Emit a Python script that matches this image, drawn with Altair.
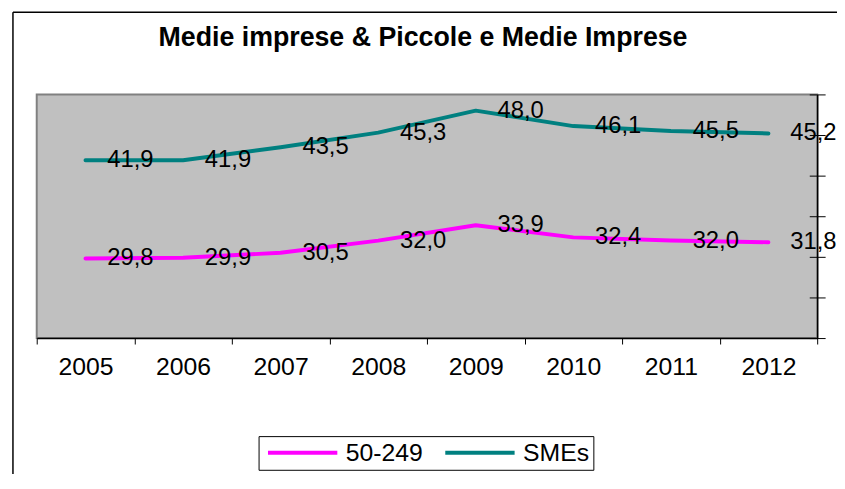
import altair as alt
import pandas as pd

years = ["2005", "2006", "2007", "2008", "2009", "2010", "2011", "2012"]
series_names = ["50-249", "SMEs"]
mid_values = [29.8, 29.9, 30.5, 32.0, 33.9, 32.4, 32.0, 31.8]
sme_values = [41.9, 41.9, 43.5, 45.3, 48.0, 46.1, 45.5, 45.2]
y_ticks = [20, 25, 30, 35, 40, 45, 50]
colors = ["#FF00FF", "#008080"]
title_text = "Medie imprese & Piccole e Medie Imprese"

rows = []
for name, vals in zip(series_names, [mid_values, sme_values]):
    for yr, v in zip(years, vals):
        rows.append({"year": yr, "series": name, "value": v})
df = pd.DataFrame(rows)

FONT = "Liberation Sans"

x_enc = alt.X(
    "year:O", bandPosition=0.5, sort=years,
    scale=alt.Scale(type="band", paddingInner=0, paddingOuter=0),
    axis=alt.Axis(title=None, labelAngle=0, tickBand="extent", tickSize=6,
                  tickColor="black", domainColor="black", domainWidth=1.5,
                  labelFontSize=25, labelFont=FONT, labelColor="black",
                  labelPadding=11, grid=False),
)
y_scale = alt.Scale(domain=[20, 50], zero=False, nice=False)
y_axis_outer = alt.Axis(orient="right", values=y_ticks, labels=False, title=None,
                        grid=False, tickSize=8, tickColor="black",
                        domainColor="black", domainWidth=1.5)
y_axis_inner = alt.Axis(orient="right", values=y_ticks, labels=False, title=None,
                        grid=False, tickSize=8, tickColor="black", domain=False,
                        offset=-8)

lines = alt.Chart(df).mark_line(
    strokeWidth=4, interpolate="linear", strokeCap="round", strokeJoin="round"
).encode(
    x=x_enc,
    y=alt.Y("value:Q", scale=y_scale, axis=y_axis_outer),
    color=alt.Color(
        "series:N", sort=series_names,
        scale=alt.Scale(domain=series_names, range=colors),
        legend=alt.Legend(
            title=None, orient="none", legendX=224, legendY=345,
            direction="horizontal",
            symbolType="M-5,0H5", symbolSize=196,
            symbolStrokeWidth=4, labelFontSize=25, labelFont=FONT,
            labelColor="black", strokeColor="black", fillColor="white",
            padding=4, columnPadding=14, labelOffset=31, symbolOffset=28,
        ),
    ),
)

labels = alt.Chart(df).transform_calculate(
    label="replace(format(datum.value, '.1f'), '.', ',')"
).mark_text(
    align="left", baseline="middle", dx=22, fontSize=24, font=FONT, color="black"
).encode(
    x=x_enc,
    y=alt.Y("value:Q", scale=y_scale, axis=y_axis_inner),
    text="label:N",
)

frame_data = alt.Data(values=[{"k": 0}])
left_edge = alt.Chart(frame_data).mark_rule(color="black", strokeWidth=1.5).encode(
    x=alt.value(-24), y=alt.value(-83), y2=alt.value(420)
)
top_edge = alt.Chart(frame_data).mark_rule(color="black", strokeWidth=1.5).encode(
    x=alt.value(-24), x2=alt.value(900), y=alt.value(-83)
)

chart = alt.layer(lines, labels, left_edge, top_edge).resolve_axis(
    y="independent"
).properties(
    width=788, height=246,
    autosize=alt.AutoSizeParams(type="none"),
    padding={"left": 29, "top": 85, "right": 20, "bottom": 135},
    background="white",
    title=alt.Title(title_text, font=FONT, fontSize=27, fontWeight="bold",
                    color="black", anchor="middle", baseline="alphabetic",
                    offset=-62, dx=-4),
).configure_view(
    fill="#C0C0C0", stroke="#808080", strokeWidth=2
)

chart.save("out.html", embed_options={"renderer": "svg", "actions": False})
